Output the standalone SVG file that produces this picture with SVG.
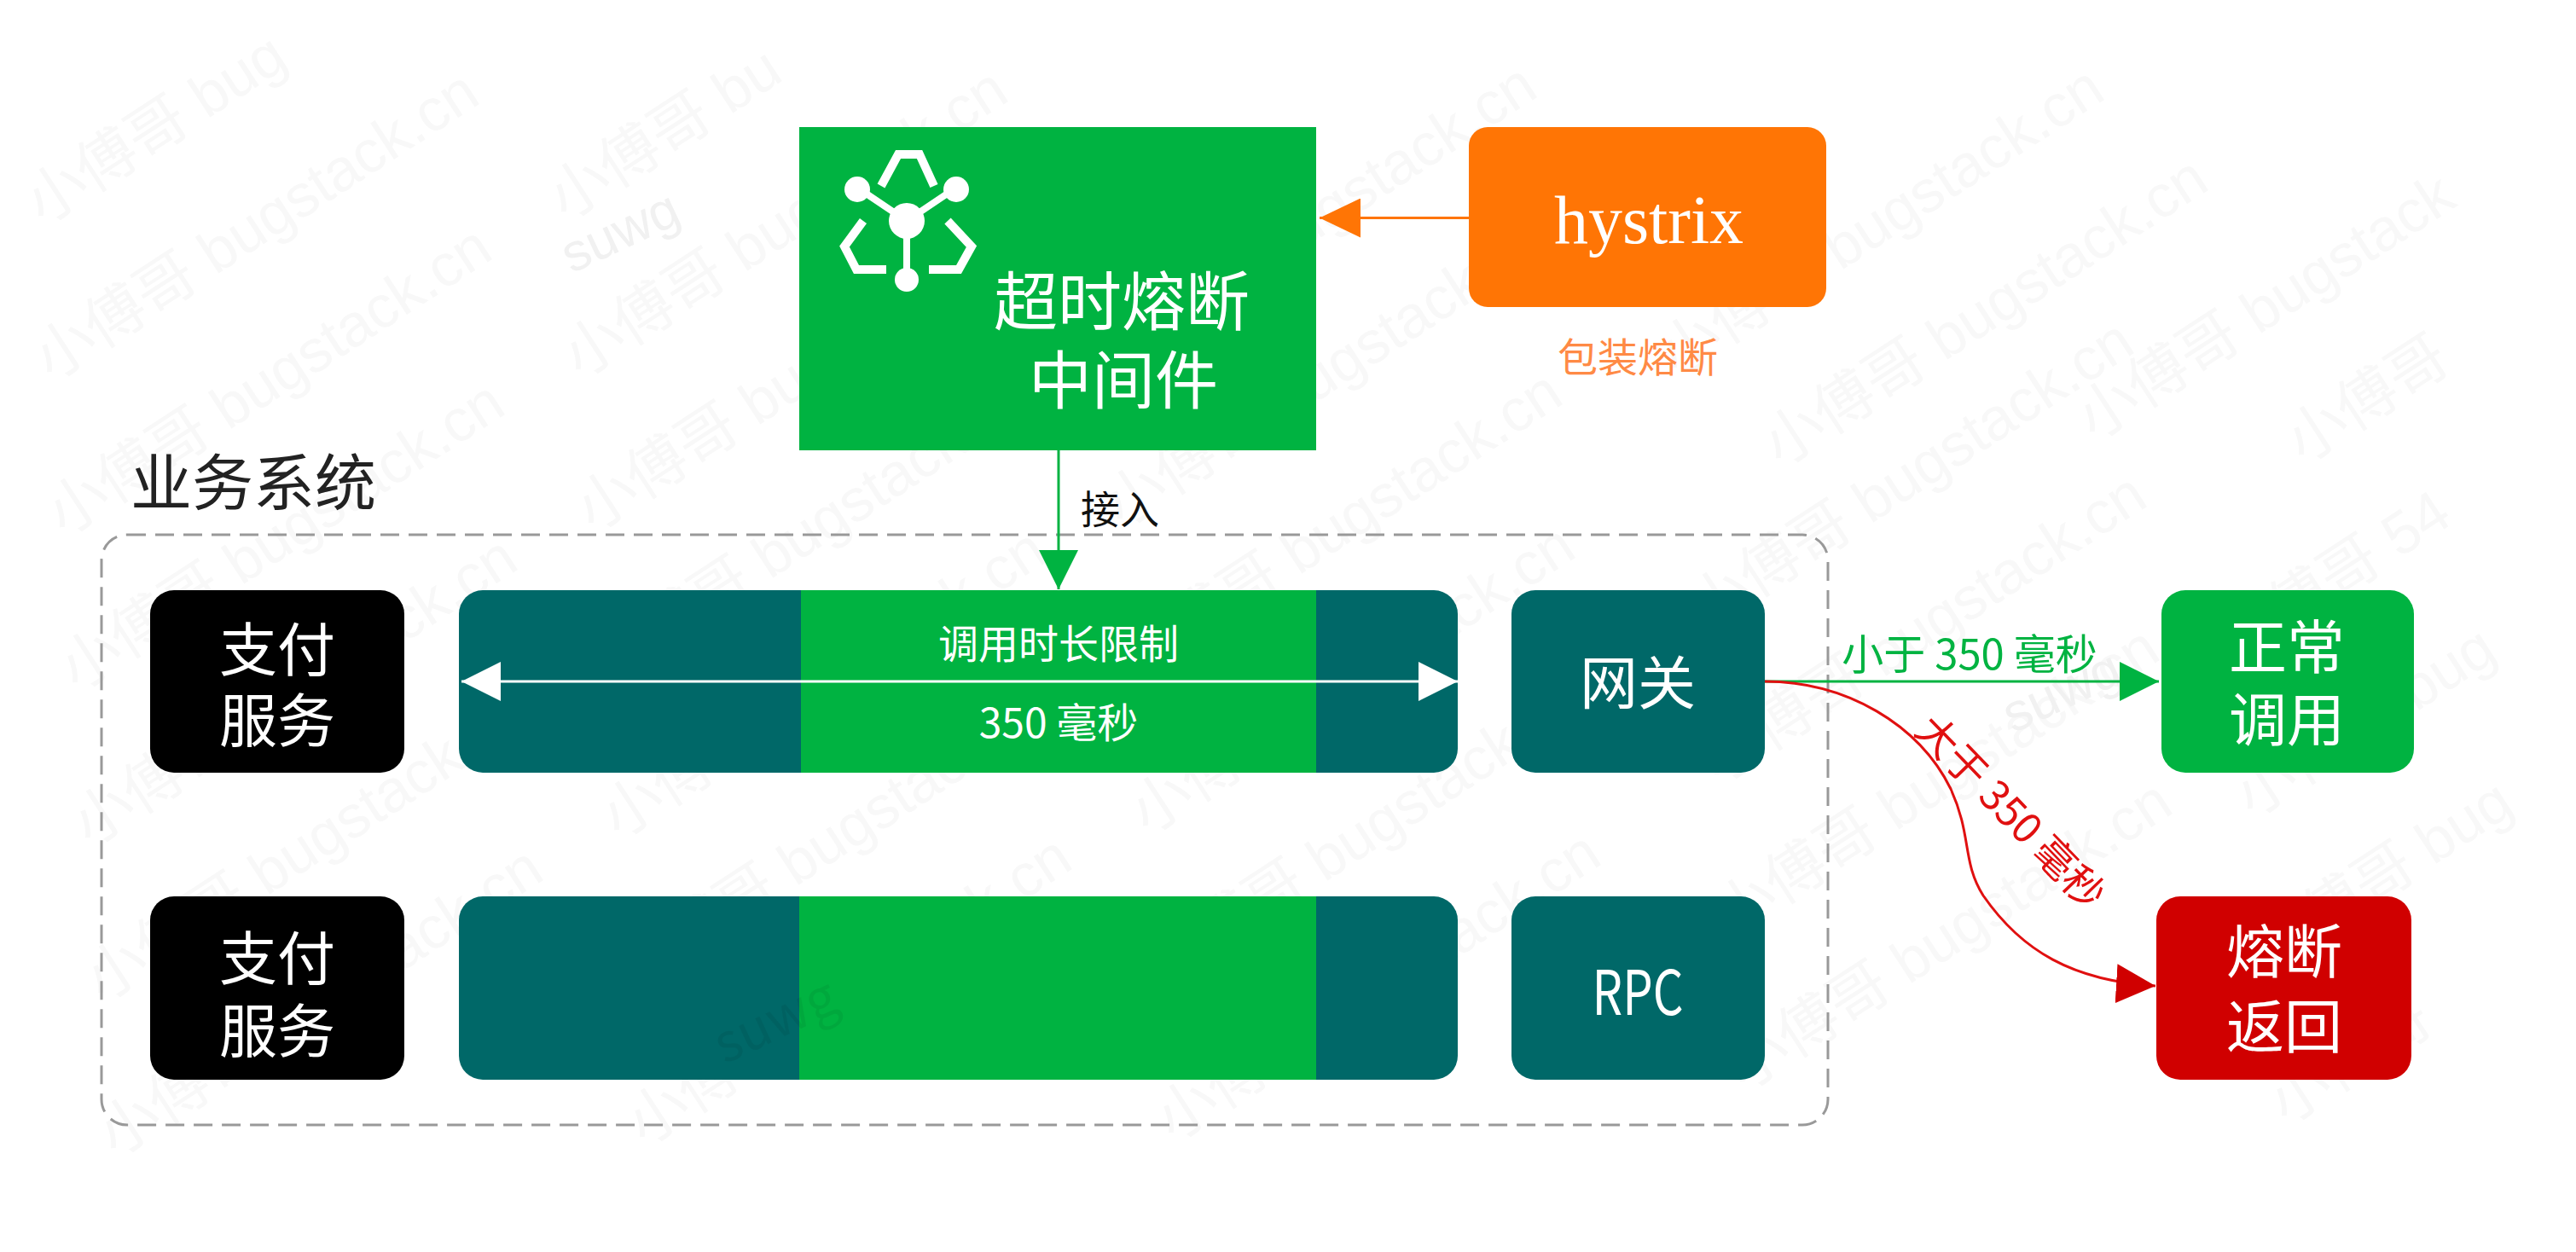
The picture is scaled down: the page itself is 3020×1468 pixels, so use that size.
<svg xmlns="http://www.w3.org/2000/svg" width="3020" height="1468" viewBox="0 0 3020 1468">
<defs>
<style>
text{font-family:"Noto Sans CJK SC","Noto Sans",sans-serif;text-anchor:middle}
.w{fill:#fff}
.wm text{fill:#f8f8f8;font-size:70px;text-anchor:start;font-family:"Liberation Sans","Noto Sans CJK SC",sans-serif}
.dk{fill:#006868}
.gr{fill:#00b341}
.k{fill:#000}
</style>
<clipPath id="wmclip"><rect x="25" y="40" width="2950" height="1383"/></clipPath>
<marker id="hg" markerUnits="userSpaceOnUse" markerWidth="46" markerHeight="46" refX="46" refY="23" orient="auto"><path d="M0 0L46 23L0 46z" fill="#00b341"/></marker>
<marker id="hr" markerUnits="userSpaceOnUse" markerWidth="46" markerHeight="46" refX="46" refY="23" orient="auto"><path d="M0 0L46 23L0 46z" fill="#d00000"/></marker>
<marker id="ho" markerUnits="userSpaceOnUse" markerWidth="48" markerHeight="46" refX="48" refY="23" orient="auto"><path d="M0 0L48 23L0 46z" fill="#ff7505"/></marker>
<marker id="hwe" markerUnits="userSpaceOnUse" markerWidth="46" markerHeight="46" refX="46" refY="23" orient="auto"><path d="M0 0L46 23L0 46z" fill="#fff"/></marker>
<marker id="hws" markerUnits="userSpaceOnUse" markerWidth="46" markerHeight="46" refX="0" refY="23" orient="auto"><path d="M46 0L0 23L46 46z" fill="#fff"/></marker>
</defs>
<rect width="3020" height="1468" fill="#fff"/>
<g id="watermarks" class="wm" clip-path="url(#wmclip)">
<text transform="translate(50,265) rotate(-33)">小傅哥 bug</text>
<text transform="translate(60,448) rotate(-33)">小傅哥 bugstack.cn</text>
<text transform="translate(75,630) rotate(-33)">小傅哥 bugstack.cn</text>
<text transform="translate(90,812) rotate(-33)">小傅哥 bugstack.cn</text>
<text transform="translate(105,994) rotate(-33)">小傅哥 bugstack.cn</text>
<text transform="translate(120,1176) rotate(-33)">小傅哥 bugstack.cn</text>
<text transform="translate(135,1358) rotate(-33)">小傅哥 bugstack.cn</text>
<text transform="translate(663,260) rotate(-33)">小傅哥 bu</text>
<text transform="translate(680,445) rotate(-33)">小傅哥 bugstack.cn</text>
<text transform="translate(695,625) rotate(-33)">小傅哥 bugstack.cn</text>
<text transform="translate(710,805) rotate(-33)">小傅哥 bugstack.cn</text>
<text transform="translate(725,985) rotate(-33)">小傅哥 bugstack.cn</text>
<text transform="translate(740,1165) rotate(-33)">小傅哥 bugstack.cn</text>
<text transform="translate(755,1345) rotate(-33)">小傅哥 bugstack.cn</text>
<text transform="translate(1300,440) rotate(-33)">小傅哥 bugstack.cn</text>
<text transform="translate(1315,620) rotate(-33)">小傅哥 bugstack.cn</text>
<text transform="translate(1330,800) rotate(-33)">小傅哥 bugstack.cn</text>
<text transform="translate(1345,980) rotate(-33)">小傅哥 bugstack.cn</text>
<text transform="translate(1360,1160) rotate(-33)">小傅哥 bugstack.cn</text>
<text transform="translate(1375,1340) rotate(-33)">小傅哥 bugstack.cn</text>
<text transform="translate(1965,443) rotate(-33)">小傅哥 bugstack.cn</text>
<text transform="translate(2087,549) rotate(-33)">小傅哥 bugstack.cn</text>
<text transform="translate(2000,740) rotate(-33)">小傅哥 bugstack.cn</text>
<text transform="translate(2015,920) rotate(-33)">小傅哥 bugstack.cn</text>
<text transform="translate(2030,1100) rotate(-33)">小傅哥 bugstack.cn</text>
<text transform="translate(2045,1280) rotate(-33)">小傅哥 bugstack.cn</text>
<text transform="translate(2455,518) rotate(-33)">小傅哥 bugstack</text>
<text transform="translate(2700,545) rotate(-33)">小傅哥</text>
<text transform="translate(2620,780) rotate(-33)">小傅哥 54</text>
<text transform="translate(2640,960) rotate(-33)">小傅哥 bug</text>
<text transform="translate(2660,1140) rotate(-33)">小傅哥 bug</text>
<text transform="translate(2680,1320) rotate(-33)">小傅哥</text>
<text transform="translate(670,321) rotate(-25)" style="font-size:62px;fill:#f1f1f1">suwg</text>
<text transform="translate(2360,860) rotate(-25)" style="font-size:62px;fill:#f1f1f1">suwg</text>
</g>
<rect id="system" x="119" y="627" width="2024" height="692" rx="30" fill="none" stroke="#999" stroke-width="3" stroke-dasharray="22 11"/>
<text id="system-label" x="297" y="592" font-size="72" fill="#222">业务系统</text>
<g id="middleware">
<rect x="937" y="149" width="606" height="379" class="gr"/>
<g fill="none" stroke="#fff" stroke-width="10">
<path d="M1063 259L1008 222M1063 259L1118 222M1063 259V328" stroke-width="8"/>
<path d="M1033 218L1053 181H1078L1095 218"/>
<path d="M1012 259L990 289L1004 316H1039"/>
<path d="M1111 259L1139 289L1124 316H1089"/>
</g>
<g fill="#fff"><circle cx="1063" cy="259" r="21"/><circle cx="1005" cy="222" r="15"/><circle cx="1121" cy="222" r="15"/><circle cx="1063" cy="328" r="14"/></g>
<text x="1315" y="381" font-size="75" class="w">超时熔断</text>
<text x="1317" y="473" font-size="74" class="w">中间件</text>
</g>
<g id="hystrix">
<rect x="1722" y="149" width="419" height="211" rx="22" fill="#ff7505"/>
<text x="1933" y="285" font-size="80" class="w" style="font-family:'Liberation Serif',serif">hystrix</text>
</g>
<text id="wrap-label" x="1920" y="436" font-size="47" fill="#ff8a45">包装熔断</text>
<g id="pay1">
<rect x="176" y="692" width="298" height="214" rx="28" class="k"/>
<text x="325" y="787" font-size="68" class="w">支付</text>
<text x="325" y="870" font-size="68" class="w">服务</text>
</g>
<g id="bar1">
<rect x="538" y="692" width="1171" height="214" rx="28" class="dk"/>
<rect x="939" y="692" width="604" height="214" class="gr"/>
<text x="1241" y="772" font-size="47" class="w">调用时长限制</text>
<text x="1241" y="865" font-size="48" class="w">350 毫秒</text>
</g>
<g id="gateway">
<rect x="1772" y="692" width="297" height="214" rx="28" class="dk"/>
<text x="1920" y="826" font-size="68" class="w">网关</text>
</g>
<g id="pay2">
<rect x="176" y="1051" width="298" height="215" rx="28" class="k"/>
<text x="325" y="1149" font-size="68" class="w">支付</text>
<text x="325" y="1234" font-size="68" class="w">服务</text>
</g>
<g id="bar2">
<rect x="538" y="1051" width="1171" height="215" rx="28" class="dk"/>
<rect x="937" y="1051" width="606" height="215" class="gr"/>
<text transform="translate(918,1216) rotate(-25)" font-size="62" fill="#000" fill-opacity="0.06">suwg</text>
</g>
<g id="rpc">
<rect x="1772" y="1051" width="297" height="215" rx="28" class="dk"/>
<text x="1920" y="1190" font-size="72" class="w" textLength="107" lengthAdjust="spacingAndGlyphs">RPC</text>
</g>
<g id="normal">
<rect x="2534" y="692" width="296" height="214" rx="28" class="gr"/>
<text x="2681" y="784" font-size="68" class="w">正常</text>
<text x="2681" y="869" font-size="68" class="w">调用</text>
</g>
<g id="breaker">
<rect x="2528" y="1051" width="299" height="215" rx="28" fill="#d00000"/>
<text x="2678" y="1141" font-size="68" class="w">熔断</text>
<text x="2678" y="1229" font-size="68" class="w">返回</text>
</g>
<g id="connectors" fill="none">
<path d="M1722 255.500H1547" stroke="#ff7505" stroke-width="3" marker-end="url(#ho)"/>
<path d="M1241 528V691" stroke="#00b341" stroke-width="3" marker-end="url(#hg)"/>
<path d="M541 799H1709" stroke="#fff" stroke-width="3" marker-start="url(#hws)" marker-end="url(#hwe)"/>
<path d="M2069 799H2531" stroke="#00b341" stroke-width="3" marker-end="url(#hg)"/>
<path d="M2069 799C2165 799 2250 850 2287 925C2312 980 2300 1010 2325 1050C2370 1115 2430 1150 2527 1156" stroke="#e01010" stroke-width="3" marker-end="url(#hr)"/>
</g>
<text id="access-label" x="1313" y="614" font-size="46" fill="#111">接入</text>
<text id="lt-label" x="2309" y="785" font-size="49" fill="#00b341">小于 350 毫秒</text>
<text id="gt-label" transform="translate(2345,964) rotate(46)" font-size="48" fill="#e01010">大于 350 毫秒</text>
</svg>
